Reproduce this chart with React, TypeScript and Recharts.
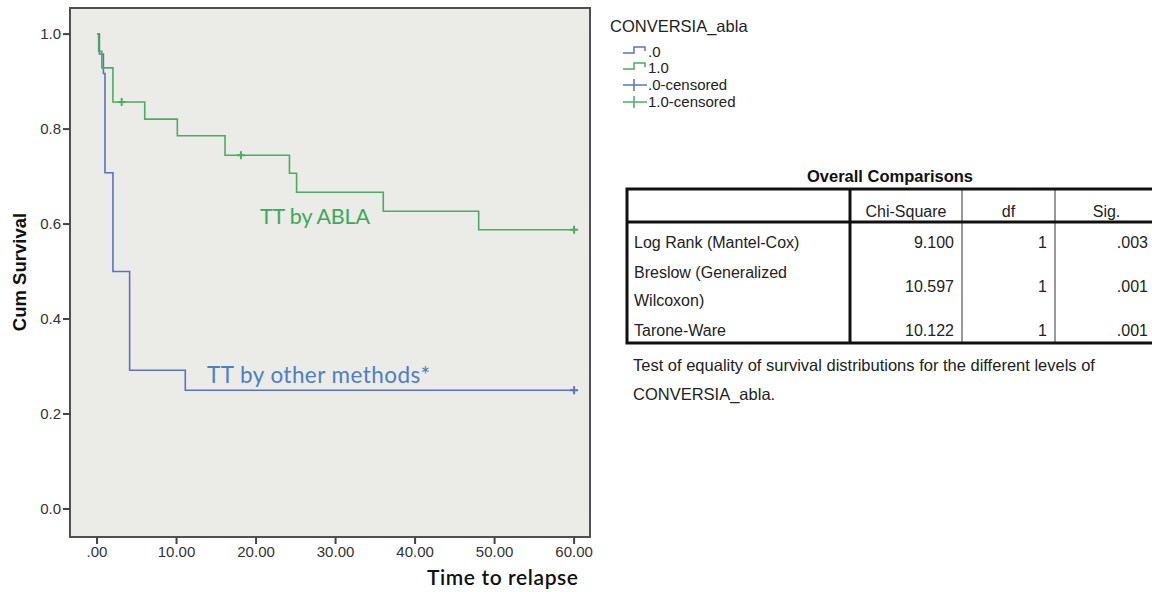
import { ComposedChart, Line, Scatter, XAxis, YAxis, ReferenceArea } from 'recharts'

// survival steps
const ablaTimes = [0, 0.2, 0.6, 2.0, 6.0, 10.1, 16.1, 24.2, 25.1, 36.0, 48.0, 60]
const ablaSurv = [1.0, 0.964, 0.929, 0.857, 0.821, 0.786, 0.745, 0.707, 0.667, 0.627, 0.588, 0.588]
const ablaCensorTimes = [3.1, 18.1, 60]
const ablaCensorSurv = [0.857, 0.745, 0.588]

const otherTimes = [0, 0.3, 0.8, 1.0, 2.0, 4.1, 11.1, 60]
const otherSurv = [1.0, 0.958, 0.917, 0.708, 0.5, 0.292, 0.25, 0.25]
const otherCensorTimes = [60]
const otherCensorSurv = [0.25]

const xTicks = [0, 10, 20, 30, 40, 50, 60]
const yTicks = [0, 0.2, 0.4, 0.6, 0.8, 1.0]

const legendTitle = 'CONVERSIA_abla'
const legendLabels = ['.0', '1.0', '.0-censored', '1.0-censored']

const tableTitle = 'Overall Comparisons'
const tableHeaders = ['Chi-Square', 'df', 'Sig.']
const testNames = [['Log Rank (Mantel-Cox)'], ['Breslow (Generalized', 'Wilcoxon)'], ['Tarone-Ware']]
const chiSquare = ['9.100', '10.597', '10.122']
const dfValues = ['1', '1', '1']
const sigValues = ['.003', '.001', '.001']
const footnote = [
  'Test of equality of survival distributions for the different levels of',
  'CONVERSIA_abla.',
]

const GREEN = '#4aad62'
const BLUE = '#5b72c0'
const X_DOMAIN: [number, number] = [-3.4, 62]
const Y_DOMAIN: [number, number] = [-0.059, 1.055]
const ARIAL = '"Liberation Sans", Arial, sans-serif'

const toPoints = (t: number[], s: number[]) => t.map((x, i) => ({ t: x, s: s[i] }))

const crossShape = (color: string) => (props: any) => {
  const { cx, cy } = props
  return (
    <g>
      <line x1={cx - 4} x2={cx + 4} y1={cy} y2={cy} stroke={color} strokeWidth={2} />
      <line x1={cx} x2={cx} y1={cy - 4} y2={cy + 4} stroke={color} strokeWidth={2} />
    </g>
  )
}

function Overlay() {
  const colX = [627, 850, 962, 1055, 1158]
  const rowBase = [248, 292, 336]
  return (
    <svg
      width={1152}
      height={592}
      style={{ position: 'absolute', left: 0, top: 0, pointerEvents: 'none' }}
      fontFamily={ARIAL}
    >
      {/* legend */}
      <text x={610} y={32} fontSize={16.5} fill="#222">{legendTitle}</text>
      {legendLabels.map((lab, i) => {
        const base = [57, 73, 90, 107][i]
        const color = i % 2 === 0 ? BLUE : GREEN
        const y = base - 4
        return (
          <g key={lab}>
            {i < 2 ? (
              <path
                d={`M623,${y} H634 V${y - 6} H645 V${y - 2}`}
                fill="none"
                stroke={color}
                strokeWidth={1.5}
              />
            ) : (
              <g stroke={color} strokeWidth={1.5}>
                <line x1={623} x2={647} y1={y - 1} y2={y - 1} />
                <line x1={634} x2={634} y1={y - 7} y2={y + 5} />
              </g>
            )}
            <text x={648} y={base} fontSize={15} fill="#222">{lab}</text>
          </g>
        )
      })}

      {/* table */}
      <text x={890} y={182} fontSize={16.5} fontWeight="bold" fill="#111" textAnchor="middle">
        {tableTitle}
      </text>
      <line x1={colX[1]} x2={colX[1]} y1={189} y2={343} stroke="#111" strokeWidth={3} />
      <line x1={colX[2]} x2={colX[2]} y1={189} y2={343} stroke="#777" strokeWidth={1.5} />
      <line x1={colX[3]} x2={colX[3]} y1={189} y2={343} stroke="#777" strokeWidth={1.5} />
      <line x1={627} x2={1158} y1={222} y2={222} stroke="#111" strokeWidth={3} />
      <rect x={627} y={189} width={531} height={154} fill="none" stroke="#111" strokeWidth={3} />
      {tableHeaders.map((h, i) => (
        <text key={h} x={(colX[i + 1] + colX[i + 2]) / 2} y={217} fontSize={16} fill="#222" textAnchor="middle">
          {h}
        </text>
      ))}
      {testNames.map((lines, r) => (
        <g key={r} fontSize={16} fill="#222">
          {lines.map((ln, k) => (
            <text key={k} x={634} y={lines.length > 1 ? rowBase[r] - 14 + k * 28 : rowBase[r]}>
              {ln}
            </text>
          ))}
          <text x={colX[2] - 8} y={rowBase[r]} textAnchor="end">{chiSquare[r]}</text>
          <text x={colX[3] - 8} y={rowBase[r]} textAnchor="end">{dfValues[r]}</text>
          <text x={colX[4] - 10} y={rowBase[r]} textAnchor="end">{sigValues[r]}</text>
        </g>
      ))}
      {footnote.map((ln, i) => (
        <text key={i} x={633} y={371 + i * 29} fontSize={16.5} fill="#222">{ln}</text>
      ))}

      {/* annotations and axis titles */}
      <text x={260} y={224} fontSize={21.5} fill="#3aaa58" fontFamily="Lato, sans-serif" textLength={110} lengthAdjust="spacing">
        TT by ABLA
      </text>
      <text x={207} y={383} fontSize={22.5} fill="#4d7fc6" fontFamily="Lato, sans-serif" textLength={223} lengthAdjust="spacing">
        TT by other methods*
      </text>
      <text x={427} y={585} fontSize={21} fontWeight={600} fill="#111" fontFamily="Lato, sans-serif" textLength={151} lengthAdjust="spacing">
        Time to relapse
      </text>
      <text
        transform="translate(26,272) rotate(-90)"
        fontSize={18.5}
        fontWeight="bold"
        fill="#111"
        textAnchor="middle"
      >
        Cum Survival
      </text>
    </svg>
  )
}

export default function App() {
  return (
    <div style={{ position: 'absolute', left: 0, top: 0, width: 1152, height: 592, overflow: 'hidden', background: '#fff' }}>
      <ComposedChart
        width={620}
        height={592}
        margin={{ top: 8, right: 30, left: 30, bottom: 25 }}
      >
        <XAxis
          dataKey="t"
          type="number"
          domain={X_DOMAIN}
          allowDataOverflow
          ticks={xTicks}
          tickFormatter={(v: number) => (v === 0 ? '.00' : v.toFixed(2))}
          tick={{ fill: '#333', fontSize: 15, fontFamily: ARIAL }}
          tickLine={{ stroke: '#444', strokeWidth: 2 }}
          axisLine={false}
          tickSize={7}
          height={30}
        />
        <YAxis
          type="number"
          domain={Y_DOMAIN}
          allowDataOverflow
          ticks={yTicks}
          tickFormatter={(v: number) => v.toFixed(1)}
          tick={{ fill: '#333', fontSize: 15, fontFamily: ARIAL }}
          tickLine={{ stroke: '#444', strokeWidth: 2 }}
          axisLine={false}
          tickSize={7}
          width={40}
        />
        <ReferenceArea
          x1={X_DOMAIN[0]}
          x2={X_DOMAIN[1]}
          y1={Y_DOMAIN[0]}
          y2={Y_DOMAIN[1]}
          fill="#ebebe7"
          fillOpacity={1}
          stroke="#505050"
          strokeWidth={2}
        />
        <Line
          data={toPoints(otherTimes, otherSurv)}
          dataKey="s"
          type="stepAfter"
          stroke={BLUE}
          strokeWidth={1.6}
          dot={false}
          isAnimationActive={false}
        />
        <Line
          data={toPoints(ablaTimes, ablaSurv)}
          dataKey="s"
          type="stepAfter"
          stroke={GREEN}
          strokeWidth={1.6}
          dot={false}
          isAnimationActive={false}
        />
        <Scatter
          data={toPoints(otherCensorTimes, otherCensorSurv)}
          dataKey="s"
          shape={crossShape(BLUE)}
          isAnimationActive={false}
        />
        <Scatter
          data={toPoints(ablaCensorTimes, ablaCensorSurv)}
          dataKey="s"
          shape={crossShape(GREEN)}
          isAnimationActive={false}
        />
      </ComposedChart>
      <Overlay />
    </div>
  )
}
